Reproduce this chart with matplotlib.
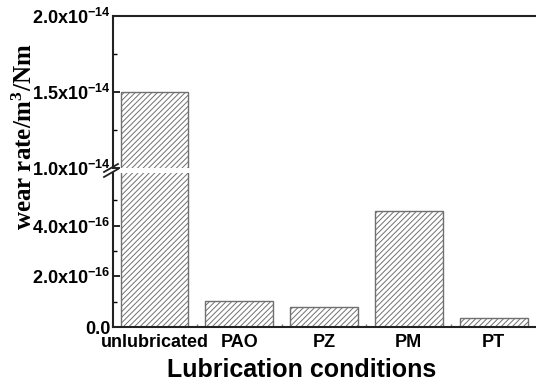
import matplotlib
matplotlib.use("Agg")
import matplotlib.pyplot as plt
from matplotlib.ticker import FixedLocator, FixedFormatter
from matplotlib.lines import Line2D

plt.rcParams['font.family'] = ['Liberation Sans', 'DejaVu Sans']
plt.rcParams['font.weight'] = 'bold'
plt.rcParams['mathtext.fontset'] = 'custom'
plt.rcParams['mathtext.sf'] = 'Liberation Sans:bold'
plt.rcParams['mathtext.rm'] = 'Liberation Serif:bold'
plt.rcParams['mathtext.it'] = 'Liberation Serif:bold'
plt.rcParams['mathtext.bf'] = 'Liberation Serif:bold'
plt.rcParams['hatch.linewidth'] = 0.7
plt.rcParams['hatch.color'] = '#808080'

categories = ['unlubricated', 'PAO', 'PZ', 'PM', 'PT']
wear_rate = [1.5e-14, 1.02e-16, 0.80e-16, 4.58e-16, 0.36e-16]

top_ticks = [1.0e-14, 1.5e-14, 2.0e-14]
top_ticklabels = [r'$\mathsf{1.0x10^{-14}}$', r'$\mathsf{1.5x10^{-14}}$', r'$\mathsf{2.0x10^{-14}}$']
top_minor = [1.25e-14, 1.75e-14]
bot_ticks = [0.0, 2.0e-16, 4.0e-16]
bot_ticklabels = ['0.0', r'$\mathsf{2.0x10^{-16}}$', r'$\mathsf{4.0x10^{-16}}$']
bot_minor = [1.0e-16, 3.0e-16, 5.0e-16]

W, H = 536, 388
fig = plt.figure(figsize=(W / 100, H / 100), dpi=100)

left = 113 / W
right = 1.0
ax_top = fig.add_axes([left, (H - 168) / H, right - left, (168 - 16) / H])
ax_bot = fig.add_axes([left, (H - 327) / H, right - left, (327 - 173) / H])

x = list(range(len(categories)))
for ax in (ax_top, ax_bot):
    ax.bar(x, wear_rate, width=0.8, facecolor='white', edgecolor='#707070',
           linewidth=1.0, hatch='//////')
    ax.set_xlim(-0.49, 4.5)
    ax.spines['right'].set_visible(False)
    for s in ('left', 'top', 'bottom'):
        ax.spines[s].set_linewidth(1.5)
        ax.spines[s].set_color('#222222')
    ax.tick_params(axis='y', which='major', direction='in', length=5, width=1.2,
                   labelsize=13, pad=2)
    ax.tick_params(axis='y', which='minor', direction='in', length=3, width=1.0)

ax_top.set_ylim(1.0e-14, 2.0e-14)
ax_top.spines['bottom'].set_visible(False)
ax_top.yaxis.set_major_locator(FixedLocator(top_ticks))
ax_top.yaxis.set_major_formatter(FixedFormatter(top_ticklabels))
ax_top.yaxis.set_minor_locator(FixedLocator(top_minor))
ax_top.set_xticks([])

ax_bot.set_ylim(0, 6.08e-16)
ax_bot.spines['top'].set_visible(False)
ax_bot.yaxis.set_major_locator(FixedLocator(bot_ticks))
ax_bot.yaxis.set_major_formatter(FixedFormatter(bot_ticklabels))
ax_bot.yaxis.set_minor_locator(FixedLocator(bot_minor))
ax_bot.set_xticks(x)
ax_bot.set_xticklabels(categories)
ax_bot.set_xticks([i + 0.5 for i in x[:-1]], minor=True)
ax_bot.tick_params(axis='x', which='major', length=0, labelsize=13, pad=5)
ax_bot.tick_params(axis='x', which='minor', direction='in', length=2, width=1.0,
                   color='#777777')

# break marks on the left axis
for dy in (-2.5, 2.5):
    y0 = (H - (170.5 + dy + 4)) / H
    y1 = (H - (170.5 + dy - 4)) / H
    fig.add_artist(Line2D([104 / W, 118 / W], [y0, y1], color='#222222',
                          linewidth=1.3, transform=fig.transFigure))

fig.text(302 / W, (H - 370) / H, 'Lubrication conditions', ha='center', va='center',
         fontsize=18, fontweight='bold', family='Liberation Sans')
fig.text(25 / W, (H - 137) / H, r'wear rate/m$^{\mathrm{3}}$/Nm', ha='center', va='center',
         rotation=90, fontsize=18, fontweight='bold', family='Liberation Serif')

fig.savefig('out.png', dpi=100)
